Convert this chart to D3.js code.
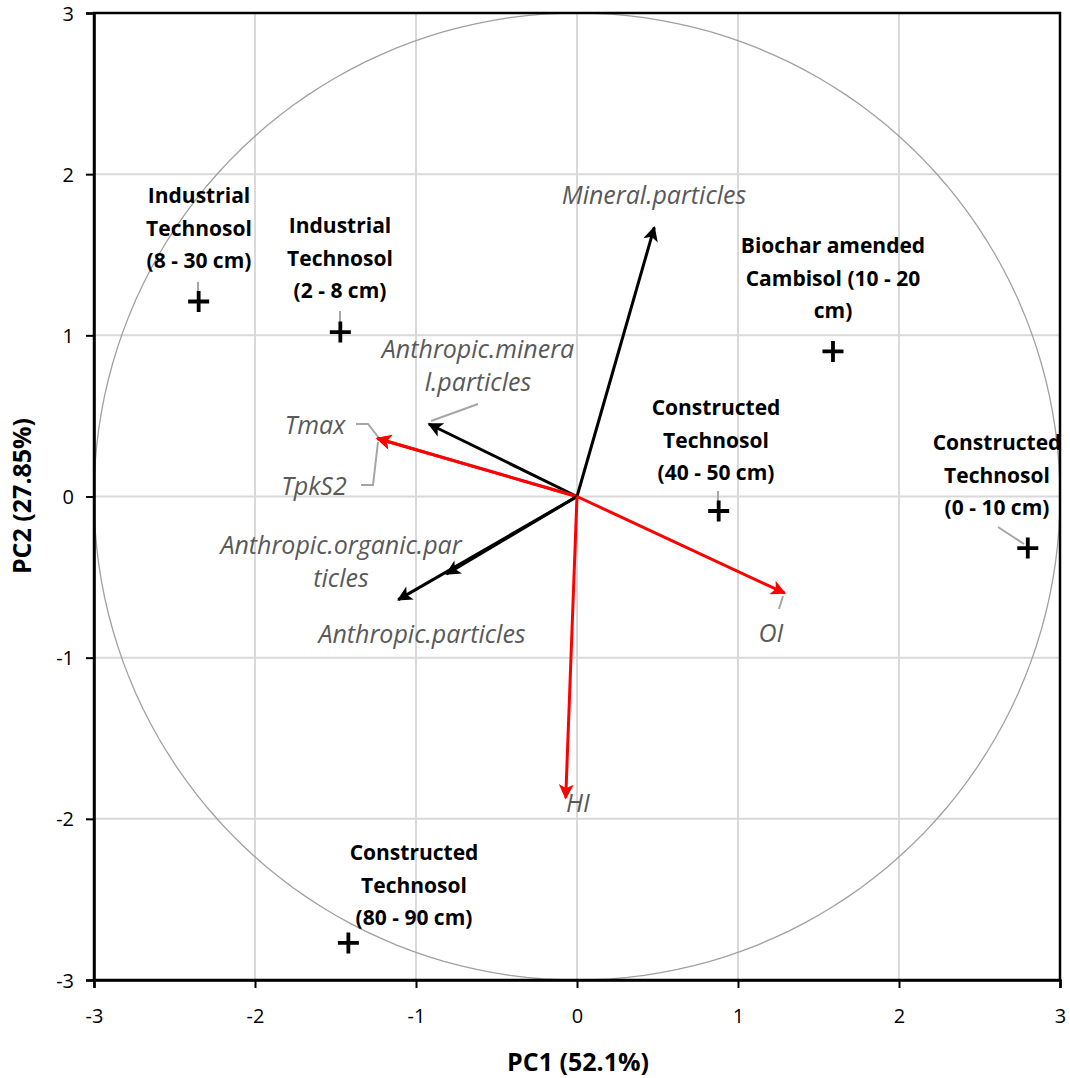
<!DOCTYPE html>
<html><head><meta charset="utf-8">
<script src="https://cdn.jsdelivr.net/npm/d3@7"></script>
<style>body{margin:0;background:#fff}</style>
</head><body>
<svg id="c" width="1070" height="1078"></svg>
<script>
// ---- data ----
const ticks = [-3,-2,-1,0,1,2,3];
const tickLabels = ["-3","-2","-1","0","1","2","3"];
const pointNames = [
  ["Industrial","Technosol","(8 - 30 cm)"],
  ["Industrial","Technosol","(2 - 8 cm)"],
  ["Biochar amended","Cambisol (10 - 20","cm)"],
  ["Constructed","Technosol","(40 - 50 cm)"],
  ["Constructed","Technosol","(0 - 10 cm)"],
  ["Constructed","Technosol","(80 - 90 cm)"]
];
const pointPC1 = [-2.35,-1.47,1.59,0.88,2.80,-1.42];
const pointPC2 = [1.21,1.02,0.90,-0.09,-0.32,-2.77];
const varNames = ["Mineral.particles","Anthropic.mineral.particles","Tmax","TpkS2","Anthropic.organic.particles","Anthropic.particles","OI","HI"];
const varPC1 = [0.48,-0.92,-1.24,-1.24,-0.81,-1.11,1.29,-0.07];
const varPC2 = [1.67,0.45,0.36,0.36,-0.48,-0.64,-0.60,-1.87];
const varColor = ["#000","#000","#ff0000","#ff0000","#000","#000","#ff0000","#ff0000"];
const circleRadius = 3;

// ---- layout ----
const L=94,R=1060,T=13,B=980;
const x=d3.scaleLinear().domain([-3,3]).range([L,R]);
const y=d3.scaleLinear().domain([-3,3]).range([B,T]);
const svg=d3.select("#c");
const labFont="'Open Sans', sans-serif";

// grid
svg.append("g").selectAll("line.gx").data(ticks).join("line")
  .attr("x1",d=>x(d)).attr("x2",d=>x(d)).attr("y1",T).attr("y2",B)
  .attr("stroke","#d9d9d9").attr("stroke-width",2);
svg.append("g").selectAll("line.gy").data(ticks).join("line")
  .attr("y1",d=>y(d)).attr("y2",d=>y(d)).attr("x1",L).attr("x2",R)
  .attr("stroke","#d9d9d9").attr("stroke-width",2);

// circle
const ang=d3.range(0,361,2).map(a=>a*Math.PI/180);
svg.append("path")
  .attr("d",d3.line().x(a=>x(circleRadius*Math.cos(a))).y(a=>y(circleRadius*Math.sin(a)))(ang))
  .attr("fill","none").attr("stroke","#a0a0a0").attr("stroke-width",1.3);

// arrow markers
const defs=svg.append("defs");
["#000","#ff0000"].forEach((c,i)=>{
  defs.append("marker").attr("id","ah"+i).attr("viewBox","0 0 10 10").attr("refX",9).attr("refY",5)
    .attr("markerWidth",6).attr("markerHeight",5).attr("markerUnits","strokeWidth").attr("orient","auto")
    .append("path").attr("d","M0,0 L10,5 L0,10 L2.5,5 Z").attr("fill",c);
});

// leader lines (grey)
const leaders=[
  [[198,282],[198,296]],
  [[340,311],[340,325]],
  [[718,491],[718,505]],
  [[998,527],[1024,544]],
  [[478,404],[431,421]],
  [[356,424],[368,424],[379,438]],
  [[361,485],[373,485],[378,442]],
  [[783,596],[779,609]]
];
svg.append("g").selectAll("path").data(leaders).join("path")
  .attr("d",d=>d3.line()(d)).attr("fill","none").attr("stroke","#a6a6a6").attr("stroke-width",2);

// variable arrows
svg.append("g").selectAll("line").data(varNames.map((n,i)=>i)).join("line")
  .attr("x1",x(0)).attr("y1",y(0))
  .attr("x2",i=>x(varPC1[i])).attr("y2",i=>y(varPC2[i]))
  .attr("stroke",i=>varColor[i]).attr("stroke-width",3)
  .attr("marker-end",i=>`url(#ah${varColor[i]==="#000"?0:1})`);

// variable labels
const varLab=[
  {t:["Mineral.particles"],x:654,y:195},
  {t:["Anthropic.minera","l.particles"],x:478,y:349},
  {t:["Tmax"],x:315,y:425},
  {t:["TpkS2"],x:314,y:486},
  {t:["Anthropic.organic.par","ticles"],x:341,y:545},
  {t:["Anthropic.particles"],x:422,y:634},
  {t:["OI"],x:771,y:633},
  {t:["HI"],x:578,y:803}
];
const vg=svg.append("g");
varLab.forEach(v=>{
  const t=vg.append("text").attr("text-anchor","middle").attr("font-family",labFont)
    .attr("font-style","italic").attr("font-size",25).attr("fill","#595959");
  v.t.forEach((s,k)=>t.append("tspan").attr("x",v.x).attr("y",v.y+k*33).attr("dy","0.35em").text(s));
});

// points
const pg=svg.append("g");
pointNames.forEach((n,i)=>{
  const cx=x(pointPC1[i]),cy=y(pointPC2[i]);
  pg.append("path").attr("d",`M${cx-10.5},${cy}H${cx+10.5}M${cx},${cy-10.5}V${cy+10.5}`)
    .attr("stroke","#000").attr("stroke-width",3.8);
});
const pointLab=[
  {x:199,y:196},{x:340,y:226},{x:833,y:246},{x:716,y:408},{x:997,y:443},{x:414,y:853}
];
pointNames.forEach((n,i)=>{
  const p=pointLab[i];
  const t=pg.append("text").attr("text-anchor","middle").attr("font-family",labFont)
    .attr("font-weight","bold").attr("font-size",21).attr("fill","#000");
  n.forEach((s,k)=>t.append("tspan").attr("x",p.x).attr("y",p.y+k*32.5).attr("dy","0.35em").text(s));
});

// frame
svg.append("rect").attr("x",L).attr("y",T).attr("width",R-L).attr("height",B-T)
  .attr("fill","none").attr("stroke","#000").attr("stroke-width",2.5);

// axes
const fmt=(d,i)=>tickLabels[i];
const xa=svg.append("g").attr("transform",`translate(0,${B})`)
  .call(d3.axisBottom(x).tickValues(ticks).tickSize(8).tickFormat(fmt));
const ya=svg.append("g").attr("transform",`translate(${L},0)`)
  .call(d3.axisLeft(y).tickValues(ticks).tickSize(8).tickFormat(fmt));
[xa,ya].forEach(g=>{
  g.select(".domain").attr("stroke","#000").attr("stroke-width",2.5);
  g.selectAll(".tick line").attr("stroke","#000").attr("stroke-width",2);
  g.selectAll("text").attr("font-family",labFont).attr("font-size",20).attr("fill","#000");
});
xa.selectAll("text").attr("dy",null).attr("y",43);
ya.selectAll("text").attr("x",-20).attr("dy","0.35em");

svg.append("text").attr("x",578).attr("y",1071).attr("text-anchor","middle")
  .attr("font-family",labFont).attr("font-weight","bold").attr("font-size",25).text("PC1 (52.1%)");
svg.append("text").attr("transform","translate(31,496) rotate(-90)").attr("text-anchor","middle")
  .attr("font-family",labFont).attr("font-weight","bold").attr("font-size",25).text("PC2 (27.85%)");
</script>
</body></html>
